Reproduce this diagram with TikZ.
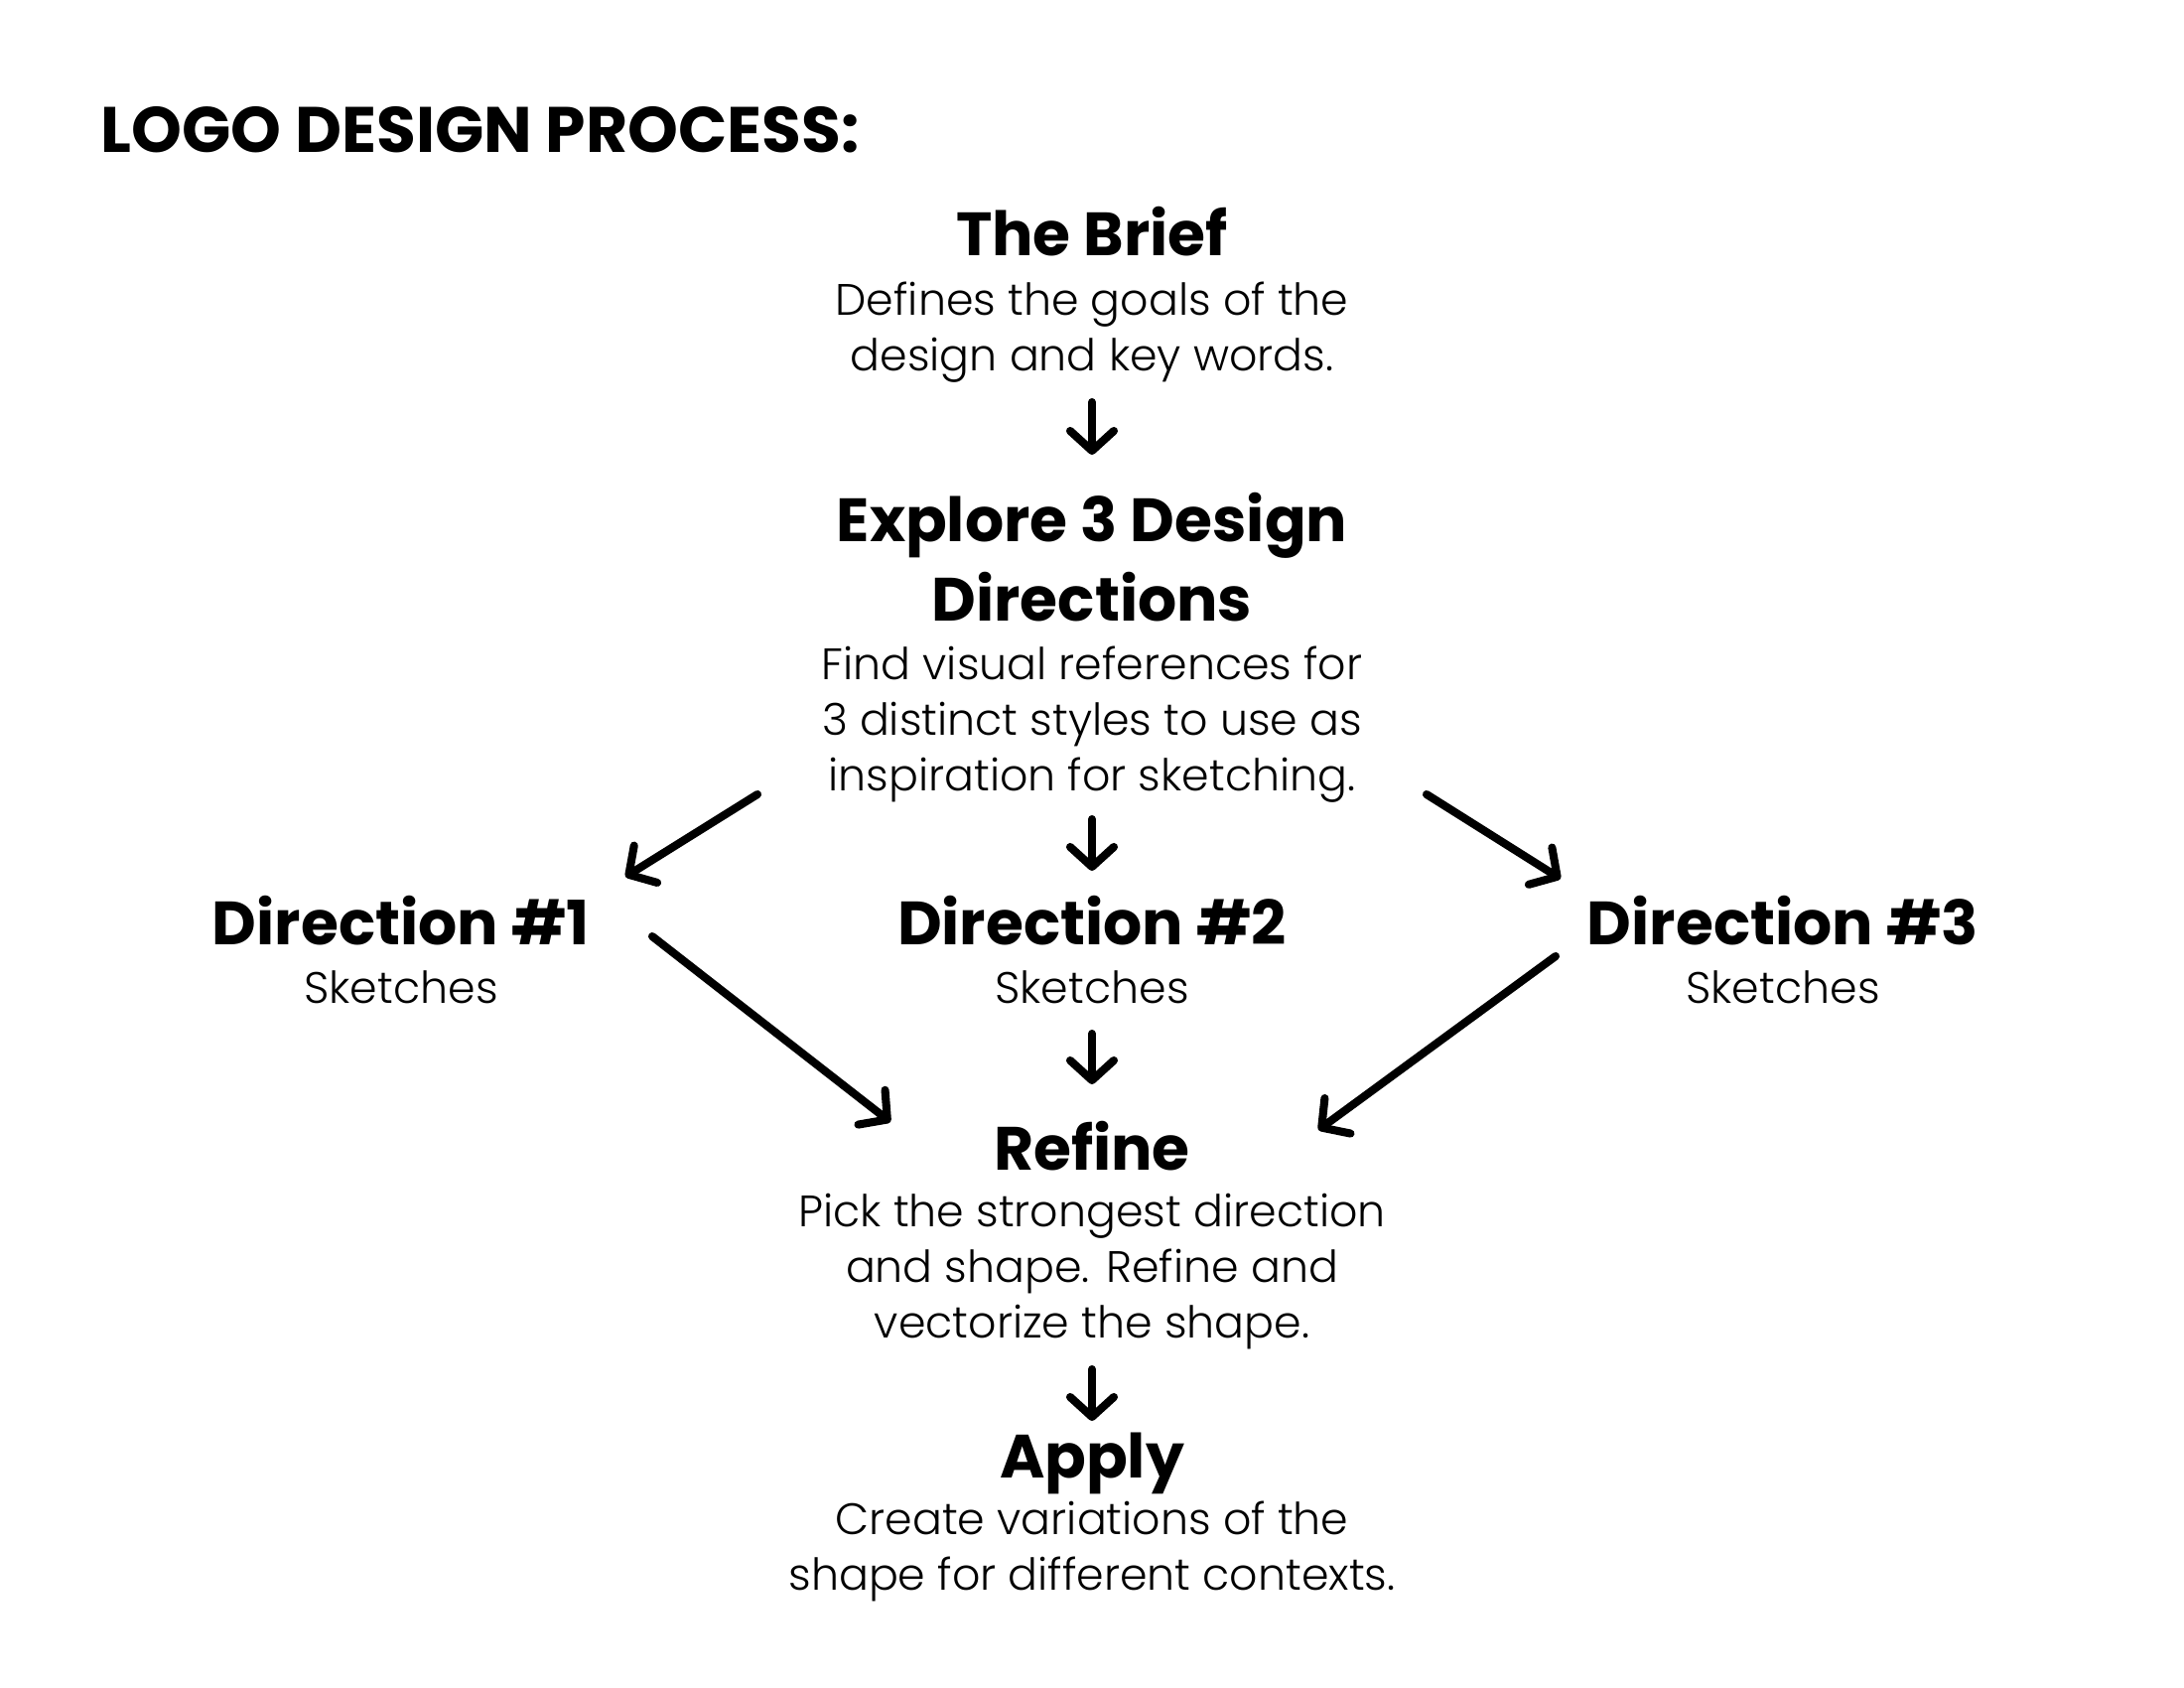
\documentclass[tikz,border=0pt]{standalone}
\usepackage{fontspec}
\setmainfont{Poppins}
\IfFontExistsTF{Poppins Light}{\newfontfamily\lightfont{Poppins Light}}{\newfontfamily\lightfont{Poppins}}
\usetikzlibrary{arrows.meta, positioning, calc}

\tikzset{
  steptitle/.style={font=\fontsize{17.5}{22.8}\selectfont\bfseries, inner sep=0pt, align=center},
  stepbody/.style={font=\lightfont\fontsize{12.6}{16}\selectfont, inner sep=0pt, align=center},
  flow/.style={line width=2.3pt, line cap=round, -{Straight Barb[round, length=2mm, width=4.4mm]}}
}

\begin{document}
\begin{tikzpicture}[x=0.01cm, y=-0.01cm]
  \useasboundingbox (0,0) rectangle (2200,1700);

  \node[anchor=base west, inner sep=0pt, font=\fontsize{18.4}{22}\selectfont\bfseries] (heading) at (101,154) {LOGO DESIGN PROCESS:};

  % the brief
  \node[steptitle, anchor=base] (brief) at (1100,258) {The Brief};
  \node[stepbody, anchor=north] (briefbody) at (1100,283) {Defines the goals of the\\design and key words.};

  % three directions
  \node[steptitle, anchor=north] (explore) at (1100,495) {Explore 3 Design\\Directions};
  \node[stepbody, anchor=north] (explorebody) at (1100,650) {Find visual references for\\3 distinct styles to use as\\inspiration for sketching.};

  \node[steptitle, anchor=base] (dirone) at (404,951) {Direction \#1};
  \node[steptitle, anchor=base] (dirtwo) at (1100,951) {Direction \#2};
  \node[steptitle, anchor=base] (dirthree) at (1796,951) {Direction \#3};
  \node[stepbody, anchor=base] (skone) at (404,1010) {Sketches};
  \node[stepbody, anchor=base] (sktwo) at (1100,1010) {Sketches};
  \node[stepbody, anchor=base] (skthree) at (1796,1010) {Sketches};

  % refine and apply
  \node[steptitle, anchor=base] (refine) at (1100,1178) {Refine};
  \node[stepbody, anchor=north] (refinebody) at (1100,1201) {Pick the strongest direction\\and shape. Refine and\\vectorize the shape.};
  \node[steptitle, anchor=base] (apply) at (1100,1488) {Apply};
  \node[stepbody, anchor=north] (applybody) at (1100,1511) {Create variations of the\\shape for different contexts.};

  \draw[flow] ($(briefbody.north)+(0,122)$) -- ($(explore.north)+(0,-37)$);
  \draw[flow] ($(explorebody.north)+(0,175)$) -- ($(dirtwo.base)+(0,-74)$);
  \draw[flow] ($(explorebody.north)+(-337,150)$) -- ($(dirone.base)+(226,-68)$);
  \draw[flow] ($(explorebody.north)+(337,150)$) -- ($(dirthree.base)+(-224,-66)$);
  \draw[flow] ($(dirone.base)+(253,-8)$) -- ($(refine.base)+(-203,-48)$);
  \draw[flow] ($(dirthree.base)+(-229,12)$) -- ($(refine.base)+(228,-40)$);
  \draw[flow] ($(sktwo.base)+(0,31)$) -- ($(refine.base)+(0,-86)$);
  \draw[flow] ($(refinebody.north)+(0,178)$) -- ($(apply.base)+(0,-57)$);
\end{tikzpicture}
\end{document}
